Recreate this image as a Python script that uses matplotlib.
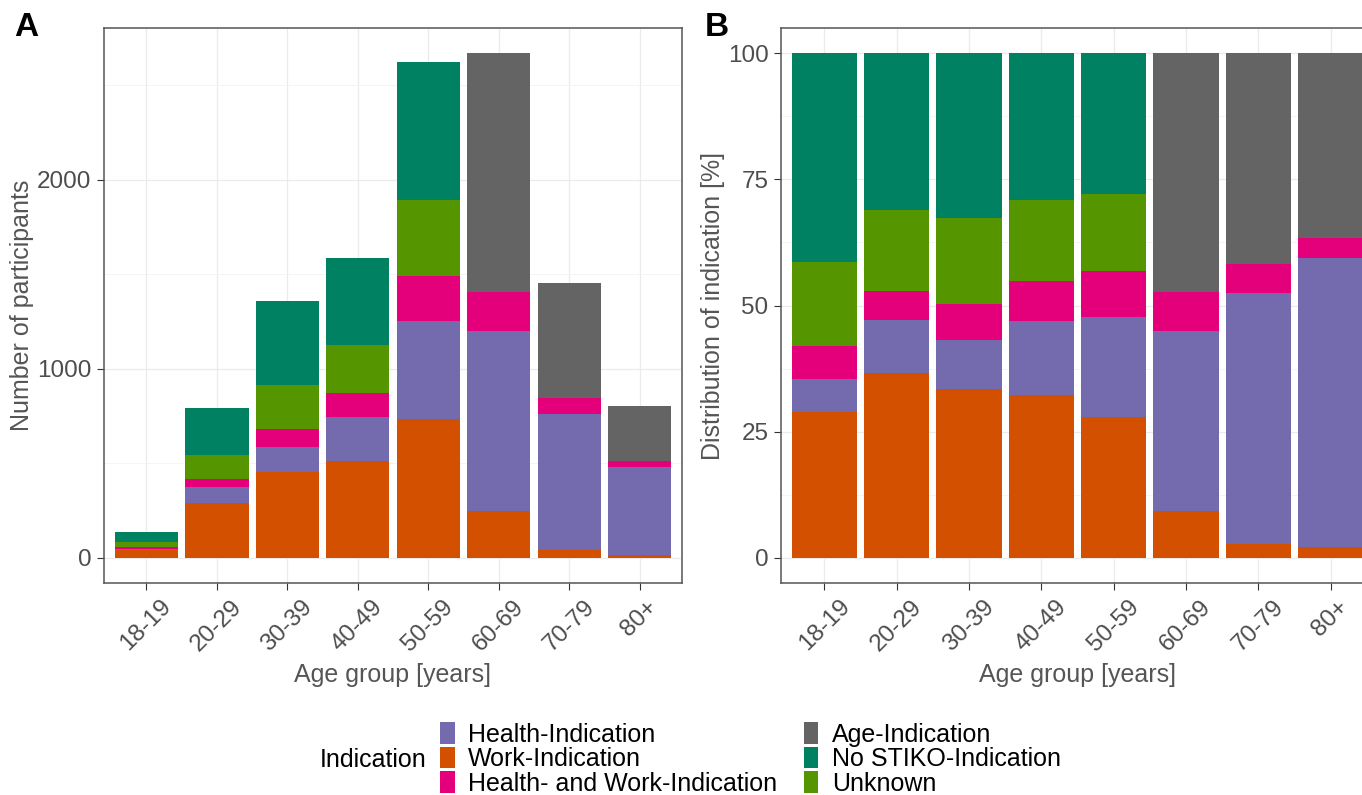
import numpy as np
import matplotlib
matplotlib.use('Agg')
import matplotlib.pyplot as plt
from matplotlib.patches import Patch

plt.rcParams['font.family'] = ['Liberation Sans', 'DejaVu Sans']

age_groups = ['18-19', '20-29', '30-39', '40-49', '50-59', '60-69', '70-79', '80+']

work = [40, 291, 454, 512, 732, 250, 41, 17]
health = [9, 82, 132, 231, 522, 951, 720, 461]
health_work = [9, 46, 96, 127, 239, 206, 83, 32]
unknown = [23, 127, 231, 255, 399, 0, 0, 0]
no_stiko = [57, 247, 443, 460, 732, 0, 0, 0]
age_ind = [0, 0, 0, 0, 0, 1262, 608, 294]

# stacking order from bottom to top
stack_names = ['Work-Indication', 'Health-Indication', 'Health- and Work-Indication',
               'Unknown', 'No STIKO-Indication', 'Age-Indication']
stack_values = [work, health, health_work, unknown, no_stiko, age_ind]

colors = {
    'Health-Indication': '#746BAE',
    'Work-Indication': '#D35000',
    'Health- and Work-Indication': '#E4007A',
    'Age-Indication': '#646464',
    'No STIKO-Indication': '#008262',
    'Unknown': '#559600',
}
legend_order = ['Health-Indication', 'Work-Indication', 'Health- and Work-Indication',
                'Age-Indication', 'No STIKO-Indication', 'Unknown']

counts = np.array(stack_values, dtype=float)
totals = counts.sum(axis=0)
percent = counts / totals * 100

fig = plt.figure(figsize=(13.62, 7.95), dpi=100)
axA = fig.add_axes([104 / 1362, 212 / 795, 578 / 1362, 555 / 795])
axB = fig.add_axes([781 / 1362, 212 / 795, 593 / 1362, 555 / 795])

tick_col = '#4D4D4D'
x = np.arange(len(age_groups))


def draw_stack(ax, data):
    bottom = np.zeros(len(age_groups))
    for name, vals in zip(stack_names, data):
        ax.bar(x, vals, bottom=bottom, width=0.9, color=colors[name], linewidth=0, zorder=2)
        bottom = bottom + vals


def style_axis(ax, yticks, yminor, ylim, ylabel):
    ax.set_xlim(-0.6, len(age_groups) - 0.4)
    ax.set_ylim(*ylim)
    ax.set_xticks(x)
    ax.set_xticklabels(age_groups, rotation=45, ha='center', va='top')
    ax.set_yticks(yticks)
    ax.set_yticks(yminor, minor=True)
    ax.grid(which='major', color='#EBEBEB', linewidth=0.9, zorder=0)
    ax.grid(which='minor', axis='y', color='#F3F3F3', linewidth=0.6, zorder=0)
    ax.set_axisbelow(True)
    ax.tick_params(axis='both', which='major', labelsize=17.5, colors='#333333',
                   labelcolor=tick_col, length=5, width=0.8, pad=4)
    ax.tick_params(axis='y', which='minor', length=0)
    for sp in ax.spines.values():
        sp.set_color('#555555')
        sp.set_linewidth(1.1)
    ax.set_xlabel('Age group [years]', fontsize=18, color='#555555', labelpad=6)
    ax.set_ylabel(ylabel, fontsize=18, color='#555555', labelpad=2)


draw_stack(axA, counts)
style_axis(axA, [0, 1000, 2000], [500, 1500, 2500],
           (-0.05 * totals.max(), 1.05 * totals.max()), 'Number of participants')

draw_stack(axB, percent)
style_axis(axB, [0, 25, 50, 75, 100], [12.5, 37.5, 62.5, 87.5],
           (-5, 105), 'Distribution of indication [%]')

fig.text(14 / 1362, 1 - 27 / 795, 'A', fontsize=24, fontweight='bold', va='center', ha='left')
fig.text(705 / 1362, 1 - 27 / 795, 'B', fontsize=24, fontweight='bold', va='center', ha='left')

handles = [Patch(facecolor=colors[n], edgecolor='none') for n in legend_order]
fig.legend(handles, legend_order, ncol=2, loc='center left',
           bbox_to_anchor=(440 / 1362, 1 - 759 / 795), frameon=False,
           fontsize=18, handlelength=0.58, handleheight=0.95, handletextpad=0.55,
           labelspacing=0.0, columnspacing=1.05, borderpad=0, borderaxespad=0)
fig.text(320 / 1362, 1 - 760 / 795, 'Indication', fontsize=18, va='center', ha='left')

fig.savefig('out.png', dpi=100)
